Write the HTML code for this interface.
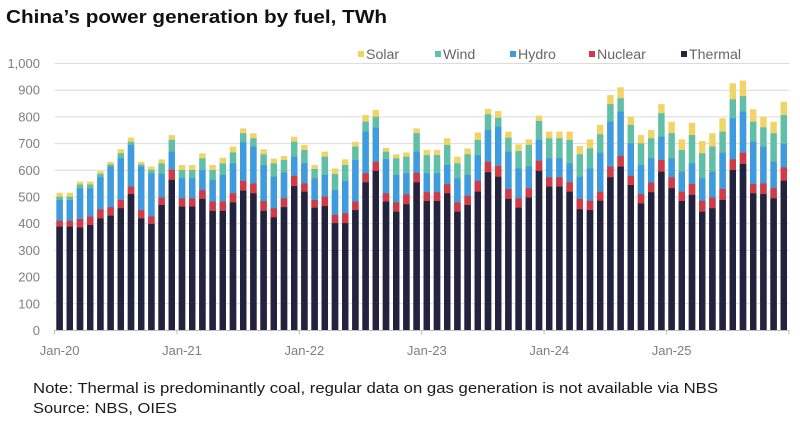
<!DOCTYPE html>
<html>
<head>
<meta charset="utf-8">
<style>
html,body{margin:0;padding:0;background:#fff;}
svg{display:block;}
text{font-family:"Liberation Sans",Arial,sans-serif;}
</style>
</head>
<body>
<svg width="800" height="423" viewBox="0 0 800 423" xmlns="http://www.w3.org/2000/svg">
<rect x="0" y="0" width="800" height="423" fill="#fff"/>
<text x="6" y="23" font-size="18.5" font-weight="bold" fill="#111" textLength="381" lengthAdjust="spacingAndGlyphs">China’s power generation by fuel, TWh</text>

<!-- legend -->
<g font-size="14.2" fill="#666">
<rect x="358" y="51" width="6" height="6" fill="#f1d466"/><text x="366" y="59">Solar</text>
<rect x="435" y="51" width="6" height="6" fill="#5fbfa8"/><text x="443" y="59">Wind</text>
<rect x="510" y="51" width="6" height="6" fill="#3f9be0"/><text x="518" y="59">Hydro</text>
<rect x="589" y="51" width="6" height="6" fill="#d43a45"/><text x="597" y="59">Nuclear</text>
<rect x="681" y="51" width="6" height="6" fill="#22243f"/><text x="689" y="59">Thermal</text>
</g>

<!-- gridlines -->
<g stroke="#dcdcdc" stroke-width="1">
<line x1="54.5" x2="789" y1="63.5" y2="63.5"/>
<line x1="54.5" x2="789" y1="90.2" y2="90.2"/>
<line x1="54.5" x2="789" y1="116.9" y2="116.9"/>
<line x1="54.5" x2="789" y1="143.6" y2="143.6"/>
<line x1="54.5" x2="789" y1="170.3" y2="170.3"/>
<line x1="54.5" x2="789" y1="197" y2="197"/>
<line x1="54.5" x2="789" y1="223.7" y2="223.7"/>
<line x1="54.5" x2="789" y1="250.4" y2="250.4"/>
<line x1="54.5" x2="789" y1="277.1" y2="277.1"/>
<line x1="54.5" x2="789" y1="303.8" y2="303.8"/>
</g>

<!-- y labels -->
<g font-size="13" fill="#7f7f7f" text-anchor="end">
<text x="40" y="68">1,000</text>
<text x="40" y="94.7">900</text>
<text x="40" y="121.4">800</text>
<text x="40" y="148.1">700</text>
<text x="40" y="174.8">600</text>
<text x="40" y="201.5">500</text>
<text x="40" y="228.2">400</text>
<text x="40" y="254.9">300</text>
<text x="40" y="281.6">200</text>
<text x="40" y="308.3">100</text>
<text x="40" y="335">0</text>
</g>

<!-- bars: layered from baseline, scaled -->
<g transform="translate(0,330) scale(1,-0.267)">
<g fill="#f1d466">
<rect x="56.4" y="0" width="6.4" height="514"/><rect x="66.6" y="0" width="6.4" height="514"/><rect x="76.8" y="0" width="6.4" height="556"/><rect x="87" y="0" width="6.4" height="556"/><rect x="97.2" y="0" width="6.4" height="595"/><rect x="107.4" y="0" width="6.4" height="630"/><rect x="117.6" y="0" width="6.4" height="677"/><rect x="127.8" y="0" width="6.4" height="721"/><rect x="138" y="0" width="6.4" height="630"/><rect x="148.2" y="0" width="6.4" height="612"/><rect x="158.4" y="0" width="6.4" height="639"/><rect x="168.6" y="0" width="6.4" height="730"/>
<rect x="178.8" y="0" width="6.4" height="618"/><rect x="189" y="0" width="6.4" height="618"/><rect x="199.2" y="0" width="6.4" height="662"/><rect x="209.4" y="0" width="6.4" height="618"/><rect x="219.6" y="0" width="6.4" height="645"/><rect x="229.8" y="0" width="6.4" height="687"/><rect x="240" y="0" width="6.4" height="755"/><rect x="250.2" y="0" width="6.4" height="737"/><rect x="260.4" y="0" width="6.4" height="677"/><rect x="270.6" y="0" width="6.4" height="642"/><rect x="280.8" y="0" width="6.4" height="652"/><rect x="291" y="0" width="6.4" height="724"/>
<rect x="301.2" y="0" width="6.4" height="693"/><rect x="311.4" y="0" width="6.4" height="618"/><rect x="321.6" y="0" width="6.4" height="668"/><rect x="331.8" y="0" width="6.4" height="605"/><rect x="342" y="0" width="6.4" height="639"/><rect x="352.2" y="0" width="6.4" height="705"/><rect x="362.4" y="0" width="6.4" height="805"/><rect x="372.6" y="0" width="6.4" height="824"/><rect x="382.8" y="0" width="6.4" height="682"/><rect x="393" y="0" width="6.4" height="658"/><rect x="403.2" y="0" width="6.4" height="665"/><rect x="413.4" y="0" width="6.4" height="755"/>
<rect x="423.6" y="0" width="6.4" height="674"/><rect x="433.8" y="0" width="6.4" height="674"/><rect x="444" y="0" width="6.4" height="718"/><rect x="454.2" y="0" width="6.4" height="649"/><rect x="464.4" y="0" width="6.4" height="680"/><rect x="474.6" y="0" width="6.4" height="740"/><rect x="484.8" y="0" width="6.4" height="828"/><rect x="495" y="0" width="6.4" height="820"/><rect x="505.2" y="0" width="6.4" height="743"/><rect x="515.4" y="0" width="6.4" height="695"/><rect x="525.6" y="0" width="6.4" height="714"/><rect x="535.8" y="0" width="6.4" height="803"/>
<rect x="546" y="0" width="6.4" height="743"/><rect x="556.2" y="0" width="6.4" height="743"/><rect x="566.4" y="0" width="6.4" height="743"/><rect x="576.6" y="0" width="6.4" height="689"/><rect x="586.8" y="0" width="6.4" height="714"/><rect x="597" y="0" width="6.4" height="768"/><rect x="607.2" y="0" width="6.4" height="880"/><rect x="617.4" y="0" width="6.4" height="909"/><rect x="627.6" y="0" width="6.4" height="799"/><rect x="637.8" y="0" width="6.4" height="730"/><rect x="648" y="0" width="6.4" height="749"/><rect x="658.2" y="0" width="6.4" height="846"/>
<rect x="668.4" y="0" width="6.4" height="780"/><rect x="678.6" y="0" width="6.4" height="714"/><rect x="688.8" y="0" width="6.4" height="776"/><rect x="699" y="0" width="6.4" height="708"/><rect x="709.2" y="0" width="6.4" height="737"/><rect x="719.4" y="0" width="6.4" height="793"/><rect x="729.6" y="0" width="6.4" height="924"/><rect x="739.8" y="0" width="6.4" height="934"/><rect x="750" y="0" width="6.4" height="827"/><rect x="760.2" y="0" width="6.4" height="799"/><rect x="770.4" y="0" width="6.4" height="780"/><rect x="780.6" y="0" width="6.4" height="855"/>
</g>
<g fill="#5fbfa8">
<rect x="56.4" y="0" width="6.4" height="499"/><rect x="66.6" y="0" width="6.4" height="499"/><rect x="76.8" y="0" width="6.4" height="545"/><rect x="87" y="0" width="6.4" height="545"/><rect x="97.2" y="0" width="6.4" height="585"/><rect x="107.4" y="0" width="6.4" height="620"/><rect x="117.6" y="0" width="6.4" height="662"/><rect x="127.8" y="0" width="6.4" height="705"/><rect x="138" y="0" width="6.4" height="620"/><rect x="148.2" y="0" width="6.4" height="600"/><rect x="158.4" y="0" width="6.4" height="624"/><rect x="168.6" y="0" width="6.4" height="712"/>
<rect x="178.8" y="0" width="6.4" height="599"/><rect x="189" y="0" width="6.4" height="599"/><rect x="199.2" y="0" width="6.4" height="643"/><rect x="209.4" y="0" width="6.4" height="599"/><rect x="219.6" y="0" width="6.4" height="624"/><rect x="229.8" y="0" width="6.4" height="665"/><rect x="240" y="0" width="6.4" height="737"/><rect x="250.2" y="0" width="6.4" height="718"/><rect x="260.4" y="0" width="6.4" height="658"/><rect x="270.6" y="0" width="6.4" height="624"/><rect x="280.8" y="0" width="6.4" height="637"/><rect x="291" y="0" width="6.4" height="705"/>
<rect x="301.2" y="0" width="6.4" height="674"/><rect x="311.4" y="0" width="6.4" height="603"/><rect x="321.6" y="0" width="6.4" height="649"/><rect x="331.8" y="0" width="6.4" height="584"/><rect x="342" y="0" width="6.4" height="618"/><rect x="352.2" y="0" width="6.4" height="687"/><rect x="362.4" y="0" width="6.4" height="780"/><rect x="372.6" y="0" width="6.4" height="799"/><rect x="382.8" y="0" width="6.4" height="668"/><rect x="393" y="0" width="6.4" height="643"/><rect x="403.2" y="0" width="6.4" height="649"/><rect x="413.4" y="0" width="6.4" height="737"/>
<rect x="423.6" y="0" width="6.4" height="655"/><rect x="433.8" y="0" width="6.4" height="655"/><rect x="444" y="0" width="6.4" height="693"/><rect x="454.2" y="0" width="6.4" height="624"/><rect x="464.4" y="0" width="6.4" height="658"/><rect x="474.6" y="0" width="6.4" height="712"/><rect x="484.8" y="0" width="6.4" height="808"/><rect x="495" y="0" width="6.4" height="795"/><rect x="505.2" y="0" width="6.4" height="720"/><rect x="515.4" y="0" width="6.4" height="670"/><rect x="525.6" y="0" width="6.4" height="693"/><rect x="535.8" y="0" width="6.4" height="783"/>
<rect x="546" y="0" width="6.4" height="718"/><rect x="556.2" y="0" width="6.4" height="718"/><rect x="566.4" y="0" width="6.4" height="712"/><rect x="576.6" y="0" width="6.4" height="658"/><rect x="586.8" y="0" width="6.4" height="680"/><rect x="597" y="0" width="6.4" height="733"/><rect x="607.2" y="0" width="6.4" height="846"/><rect x="617.4" y="0" width="6.4" height="868"/><rect x="627.6" y="0" width="6.4" height="768"/><rect x="637.8" y="0" width="6.4" height="699"/><rect x="648" y="0" width="6.4" height="718"/><rect x="658.2" y="0" width="6.4" height="812"/>
<rect x="668.4" y="0" width="6.4" height="737"/><rect x="678.6" y="0" width="6.4" height="674"/><rect x="688.8" y="0" width="6.4" height="730"/><rect x="699" y="0" width="6.4" height="662"/><rect x="709.2" y="0" width="6.4" height="687"/><rect x="719.4" y="0" width="6.4" height="743"/><rect x="729.6" y="0" width="6.4" height="864"/><rect x="739.8" y="0" width="6.4" height="876"/><rect x="750" y="0" width="6.4" height="780"/><rect x="760.2" y="0" width="6.4" height="759"/><rect x="770.4" y="0" width="6.4" height="737"/><rect x="780.6" y="0" width="6.4" height="805"/>
</g>
<g fill="#3f9be0">
<rect x="56.4" y="0" width="6.4" height="487"/><rect x="66.6" y="0" width="6.4" height="487"/><rect x="76.8" y="0" width="6.4" height="530"/><rect x="87" y="0" width="6.4" height="530"/><rect x="97.2" y="0" width="6.4" height="572"/><rect x="107.4" y="0" width="6.4" height="612"/><rect x="117.6" y="0" width="6.4" height="643"/><rect x="127.8" y="0" width="6.4" height="693"/><rect x="138" y="0" width="6.4" height="612"/><rect x="148.2" y="0" width="6.4" height="587"/><rect x="158.4" y="0" width="6.4" height="585"/><rect x="168.6" y="0" width="6.4" height="668"/>
<rect x="178.8" y="0" width="6.4" height="568"/><rect x="189" y="0" width="6.4" height="568"/><rect x="199.2" y="0" width="6.4" height="599"/><rect x="209.4" y="0" width="6.4" height="562"/><rect x="219.6" y="0" width="6.4" height="581"/><rect x="229.8" y="0" width="6.4" height="624"/><rect x="240" y="0" width="6.4" height="703"/><rect x="250.2" y="0" width="6.4" height="687"/><rect x="260.4" y="0" width="6.4" height="618"/><rect x="270.6" y="0" width="6.4" height="574"/><rect x="280.8" y="0" width="6.4" height="590"/><rect x="291" y="0" width="6.4" height="649"/>
<rect x="301.2" y="0" width="6.4" height="624"/><rect x="311.4" y="0" width="6.4" height="568"/><rect x="321.6" y="0" width="6.4" height="581"/><rect x="331.8" y="0" width="6.4" height="524"/><rect x="342" y="0" width="6.4" height="558"/><rect x="352.2" y="0" width="6.4" height="637"/><rect x="362.4" y="0" width="6.4" height="743"/><rect x="372.6" y="0" width="6.4" height="758"/><rect x="382.8" y="0" width="6.4" height="640"/><rect x="393" y="0" width="6.4" height="581"/><rect x="403.2" y="0" width="6.4" height="587"/><rect x="413.4" y="0" width="6.4" height="668"/>
<rect x="423.6" y="0" width="6.4" height="587"/><rect x="433.8" y="0" width="6.4" height="587"/><rect x="444" y="0" width="6.4" height="618"/><rect x="454.2" y="0" width="6.4" height="568"/><rect x="464.4" y="0" width="6.4" height="581"/><rect x="474.6" y="0" width="6.4" height="655"/><rect x="484.8" y="0" width="6.4" height="749"/><rect x="495" y="0" width="6.4" height="761"/><rect x="505.2" y="0" width="6.4" height="668"/><rect x="515.4" y="0" width="6.4" height="605"/><rect x="525.6" y="0" width="6.4" height="612"/><rect x="535.8" y="0" width="6.4" height="712"/>
<rect x="546" y="0" width="6.4" height="643"/><rect x="556.2" y="0" width="6.4" height="643"/><rect x="566.4" y="0" width="6.4" height="624"/><rect x="576.6" y="0" width="6.4" height="574"/><rect x="586.8" y="0" width="6.4" height="605"/><rect x="597" y="0" width="6.4" height="664"/><rect x="607.2" y="0" width="6.4" height="780"/><rect x="617.4" y="0" width="6.4" height="818"/><rect x="627.6" y="0" width="6.4" height="699"/><rect x="637.8" y="0" width="6.4" height="618"/><rect x="648" y="0" width="6.4" height="643"/><rect x="658.2" y="0" width="6.4" height="724"/>
<rect x="668.4" y="0" width="6.4" height="643"/><rect x="678.6" y="0" width="6.4" height="593"/><rect x="688.8" y="0" width="6.4" height="624"/><rect x="699" y="0" width="6.4" height="568"/><rect x="709.2" y="0" width="6.4" height="593"/><rect x="719.4" y="0" width="6.4" height="664"/><rect x="729.6" y="0" width="6.4" height="793"/><rect x="739.8" y="0" width="6.4" height="818"/><rect x="750" y="0" width="6.4" height="705"/><rect x="760.2" y="0" width="6.4" height="687"/><rect x="770.4" y="0" width="6.4" height="630"/><rect x="780.6" y="0" width="6.4" height="697"/>
</g>
<g fill="#d43a45">
<rect x="56.4" y="0" width="6.4" height="409"/><rect x="66.6" y="0" width="6.4" height="409"/><rect x="76.8" y="0" width="6.4" height="416"/><rect x="87" y="0" width="6.4" height="425"/><rect x="97.2" y="0" width="6.4" height="452"/><rect x="107.4" y="0" width="6.4" height="460"/><rect x="117.6" y="0" width="6.4" height="487"/><rect x="127.8" y="0" width="6.4" height="537"/><rect x="138" y="0" width="6.4" height="449"/><rect x="148.2" y="0" width="6.4" height="425"/><rect x="158.4" y="0" width="6.4" height="496"/><rect x="168.6" y="0" width="6.4" height="600"/>
<rect x="178.8" y="0" width="6.4" height="493"/><rect x="189" y="0" width="6.4" height="493"/><rect x="199.2" y="0" width="6.4" height="524"/><rect x="209.4" y="0" width="6.4" height="481"/><rect x="219.6" y="0" width="6.4" height="481"/><rect x="229.8" y="0" width="6.4" height="512"/><rect x="240" y="0" width="6.4" height="558"/><rect x="250.2" y="0" width="6.4" height="549"/><rect x="260.4" y="0" width="6.4" height="483"/><rect x="270.6" y="0" width="6.4" height="456"/><rect x="280.8" y="0" width="6.4" height="493"/><rect x="291" y="0" width="6.4" height="577"/>
<rect x="301.2" y="0" width="6.4" height="549"/><rect x="311.4" y="0" width="6.4" height="487"/><rect x="321.6" y="0" width="6.4" height="499"/><rect x="331.8" y="0" width="6.4" height="431"/><rect x="342" y="0" width="6.4" height="437"/><rect x="352.2" y="0" width="6.4" height="481"/><rect x="362.4" y="0" width="6.4" height="587"/><rect x="372.6" y="0" width="6.4" height="630"/><rect x="382.8" y="0" width="6.4" height="512"/><rect x="393" y="0" width="6.4" height="478"/><rect x="403.2" y="0" width="6.4" height="508"/><rect x="413.4" y="0" width="6.4" height="589"/>
<rect x="423.6" y="0" width="6.4" height="516"/><rect x="433.8" y="0" width="6.4" height="516"/><rect x="444" y="0" width="6.4" height="546"/><rect x="454.2" y="0" width="6.4" height="478"/><rect x="464.4" y="0" width="6.4" height="503"/><rect x="474.6" y="0" width="6.4" height="558"/><rect x="484.8" y="0" width="6.4" height="630"/><rect x="495" y="0" width="6.4" height="615"/><rect x="505.2" y="0" width="6.4" height="528"/><rect x="515.4" y="0" width="6.4" height="493"/><rect x="525.6" y="0" width="6.4" height="531"/><rect x="535.8" y="0" width="6.4" height="634"/>
<rect x="546" y="0" width="6.4" height="572"/><rect x="556.2" y="0" width="6.4" height="572"/><rect x="566.4" y="0" width="6.4" height="553"/><rect x="576.6" y="0" width="6.4" height="491"/><rect x="586.8" y="0" width="6.4" height="484"/><rect x="597" y="0" width="6.4" height="518"/><rect x="607.2" y="0" width="6.4" height="612"/><rect x="617.4" y="0" width="6.4" height="652"/><rect x="627.6" y="0" width="6.4" height="577"/><rect x="637.8" y="0" width="6.4" height="509"/><rect x="648" y="0" width="6.4" height="552"/><rect x="658.2" y="0" width="6.4" height="637"/>
<rect x="668.4" y="0" width="6.4" height="572"/><rect x="678.6" y="0" width="6.4" height="518"/><rect x="688.8" y="0" width="6.4" height="547"/><rect x="699" y="0" width="6.4" height="484"/><rect x="709.2" y="0" width="6.4" height="496"/><rect x="719.4" y="0" width="6.4" height="528"/><rect x="729.6" y="0" width="6.4" height="639"/><rect x="739.8" y="0" width="6.4" height="664"/><rect x="750" y="0" width="6.4" height="547"/><rect x="760.2" y="0" width="6.4" height="549"/><rect x="770.4" y="0" width="6.4" height="531"/><rect x="780.6" y="0" width="6.4" height="609"/>
</g>
<g fill="#22243f">
<rect x="56.4" y="0" width="6.4" height="387"/><rect x="66.6" y="0" width="6.4" height="387"/><rect x="76.8" y="0" width="6.4" height="384"/><rect x="87" y="0" width="6.4" height="393"/><rect x="97.2" y="0" width="6.4" height="418"/><rect x="107.4" y="0" width="6.4" height="428"/><rect x="117.6" y="0" width="6.4" height="456"/><rect x="127.8" y="0" width="6.4" height="509"/><rect x="138" y="0" width="6.4" height="418"/><rect x="148.2" y="0" width="6.4" height="397"/><rect x="158.4" y="0" width="6.4" height="468"/><rect x="168.6" y="0" width="6.4" height="562"/>
<rect x="178.8" y="0" width="6.4" height="462"/><rect x="189" y="0" width="6.4" height="462"/><rect x="199.2" y="0" width="6.4" height="491"/><rect x="209.4" y="0" width="6.4" height="446"/><rect x="219.6" y="0" width="6.4" height="446"/><rect x="229.8" y="0" width="6.4" height="478"/><rect x="240" y="0" width="6.4" height="522"/><rect x="250.2" y="0" width="6.4" height="512"/><rect x="260.4" y="0" width="6.4" height="446"/><rect x="270.6" y="0" width="6.4" height="422"/><rect x="280.8" y="0" width="6.4" height="460"/><rect x="291" y="0" width="6.4" height="539"/>
<rect x="301.2" y="0" width="6.4" height="518"/><rect x="311.4" y="0" width="6.4" height="458"/><rect x="321.6" y="0" width="6.4" height="464"/><rect x="331.8" y="0" width="6.4" height="400"/><rect x="342" y="0" width="6.4" height="400"/><rect x="352.2" y="0" width="6.4" height="449"/><rect x="362.4" y="0" width="6.4" height="553"/><rect x="372.6" y="0" width="6.4" height="596"/><rect x="382.8" y="0" width="6.4" height="481"/><rect x="393" y="0" width="6.4" height="443"/><rect x="403.2" y="0" width="6.4" height="471"/><rect x="413.4" y="0" width="6.4" height="553"/>
<rect x="423.6" y="0" width="6.4" height="483"/><rect x="433.8" y="0" width="6.4" height="483"/><rect x="444" y="0" width="6.4" height="512"/><rect x="454.2" y="0" width="6.4" height="443"/><rect x="464.4" y="0" width="6.4" height="468"/><rect x="474.6" y="0" width="6.4" height="518"/><rect x="484.8" y="0" width="6.4" height="591"/><rect x="495" y="0" width="6.4" height="574"/><rect x="505.2" y="0" width="6.4" height="491"/><rect x="515.4" y="0" width="6.4" height="458"/><rect x="525.6" y="0" width="6.4" height="496"/><rect x="535.8" y="0" width="6.4" height="596"/>
<rect x="546" y="0" width="6.4" height="537"/><rect x="556.2" y="0" width="6.4" height="537"/><rect x="566.4" y="0" width="6.4" height="518"/><rect x="576.6" y="0" width="6.4" height="452"/><rect x="586.8" y="0" width="6.4" height="449"/><rect x="597" y="0" width="6.4" height="484"/><rect x="607.2" y="0" width="6.4" height="572"/><rect x="617.4" y="0" width="6.4" height="612"/><rect x="627.6" y="0" width="6.4" height="543"/><rect x="637.8" y="0" width="6.4" height="474"/><rect x="648" y="0" width="6.4" height="516"/><rect x="658.2" y="0" width="6.4" height="593"/>
<rect x="668.4" y="0" width="6.4" height="531"/><rect x="678.6" y="0" width="6.4" height="483"/><rect x="688.8" y="0" width="6.4" height="506"/><rect x="699" y="0" width="6.4" height="443"/><rect x="709.2" y="0" width="6.4" height="456"/><rect x="719.4" y="0" width="6.4" height="487"/><rect x="729.6" y="0" width="6.4" height="599"/><rect x="739.8" y="0" width="6.4" height="622"/><rect x="750" y="0" width="6.4" height="512"/><rect x="760.2" y="0" width="6.4" height="509"/><rect x="770.4" y="0" width="6.4" height="493"/><rect x="780.6" y="0" width="6.4" height="559"/>
</g>
</g>

<!-- x axis -->
<g stroke="#bfbfbf" stroke-width="1">
<line x1="54.5" x2="789.5" y1="330.5" y2="330.5"/>
<line x1="54.5" x2="54.5" y1="330" y2="334.5"/>
<line x1="176.9" x2="176.9" y1="330" y2="334.5"/>
<line x1="299.3" x2="299.3" y1="330" y2="334.5"/>
<line x1="421.7" x2="421.7" y1="330" y2="334.5"/>
<line x1="544.1" x2="544.1" y1="330" y2="334.5"/>
<line x1="666.5" x2="666.5" y1="330" y2="334.5"/>
<line x1="788.9" x2="788.9" y1="330" y2="334.5"/>
</g>
<g font-size="13" fill="#7f7f7f" text-anchor="middle">
<text x="59.6" y="355">Jan-20</text>
<text x="182" y="355">Jan-21</text>
<text x="304.4" y="355">Jan-22</text>
<text x="426.8" y="355">Jan-23</text>
<text x="549.2" y="355">Jan-24</text>
<text x="671.6" y="355">Jan-25</text>
</g>

<text x="33" y="393" font-size="14.5" fill="#1a1a1a" textLength="685" lengthAdjust="spacingAndGlyphs">Note: Thermal is predominantly coal, regular data on gas generation is not available via NBS</text>
<text x="33" y="413" font-size="14.5" fill="#1a1a1a" textLength="144" lengthAdjust="spacingAndGlyphs">Source: NBS, OIES</text>
</svg>
</body>
</html>
